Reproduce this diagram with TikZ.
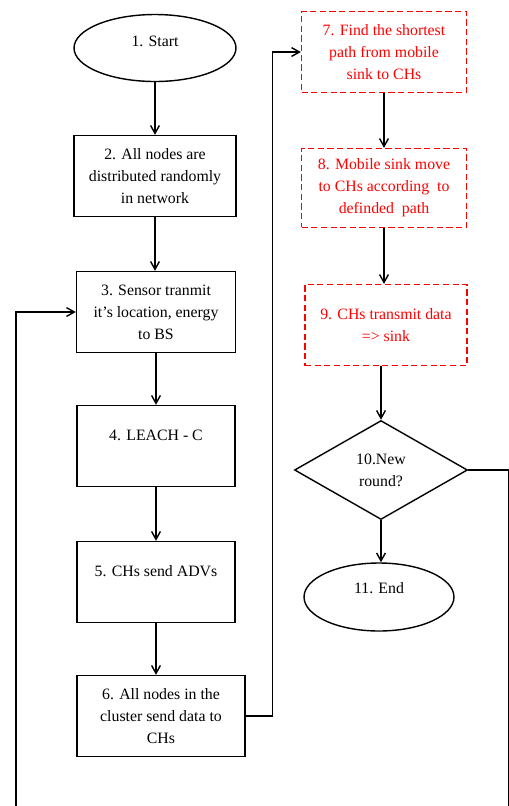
\documentclass[tikz,border=0pt]{standalone}
\usepackage{fontspec}
\setmainfont{Liberation Serif}
\usetikzlibrary{shapes.geometric,arrows.meta}

\tikzset{
  flow/.style={line width=0.8pt,-{Straight Barb[length=4.5pt,width=5pt]}},
  stepbox/.style={draw,line width=0.8pt,rectangle,align=center,minimum height=1.62cm,inner sep=2pt},
  redbox/.style={stepbox,draw=red,line width=0.7pt,dash pattern=on 3.5pt off 2pt,text=red},
  term/.style={draw,line width=0.8pt,ellipse,inner sep=0pt},
  decide/.style={draw,line width=0.8pt,diamond,align=center,inner sep=0pt}
}

\begin{document}
\begin{tikzpicture}[x=0.02cm,y=-0.02cm,font=\fontsize{9}{12.5}\selectfont]
    \useasboundingbox (0,0) rectangle (509,806);
    \clip (0,0) rectangle (509,806);

    % left column
    \node[term,minimum width=3.24cm,minimum height=1.34cm,text depth=8pt] (start) at (155,48) {1. Start};
    \node[stepbox,minimum width=3.24cm] (two) at (155,176) {2. All nodes are\\distributed randomly\\in network};
    \node[stepbox,minimum width=3.18cm] (three) at (156,312) {3. Sensor tranmit\\it's location, energy\\to BS};
    \node[stepbox,minimum width=3.16cm,text depth=12pt] (four) at (156,446) {4. LEACH - C};
    \node[stepbox,minimum width=3.16cm,text depth=12pt] (five) at (156,582) {5. CHs send ADVs};
    \node[stepbox,minimum width=3.36cm] (six) at (161,716) {6. All nodes in the\\cluster send data to\\CHs};

    % right column
    \node[redbox,minimum width=3.3cm] (seven) at (384,52) {7. Find the shortest\\path from mobile\\sink to CHs};
    \node[redbox,minimum width=3.3cm,minimum height=1.58cm] (eight) at (384,188) {8. Mobile sink move\\to CHs according\ \ to\\definded\ \ path};
    \node[redbox,minimum width=3.24cm] (nine) at (386,325) {9. CHs transmit data\\=> sink};
    \node[decide,minimum width=3.46cm,minimum height=1.98cm] (ten) at (381,470) {10.New\\round?};
    \node[term,minimum width=3cm,minimum height=1.36cm,text depth=10pt] (eleven) at (379,597) {11. End};

    \coordinate (loopL) at (16,830);

    \draw[flow] (start) -- (start |- two.north);
    \draw[flow] (two) -- (two |- three.north);
    \draw[flow] (three) -- (three |- four.north);
    \draw[flow] (four) -- (five);
    \draw[flow] (five) -- (five |- six.north);
    \draw[flow] (six.east) -- ++(27,0) |- (seven.west);
    \draw[flow] (seven) -- (eight);
    \draw[flow] (eight) -- (eight |- nine.north);
    \draw[flow] (nine.south -| ten) -- (ten.north);
    \draw[flow] (ten) -- (eleven.north -| ten);
    \draw[flow] (ten.east) -- ++(41,0) |- (loopL) |- (three.west);

\end{tikzpicture}
\end{document}
